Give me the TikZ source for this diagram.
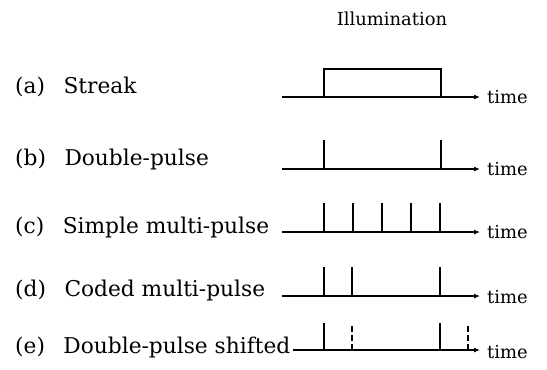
\documentclass[tikz,border=0pt]{standalone}
\usepackage{fontspec}
\setmainfont{DejaVu Serif}
\usetikzlibrary{arrows.meta}
\begin{document}
\begin{tikzpicture}[x=1bp,y=-1bp,
  axis/.style={line width=1.9bp,-{Latex[length=6bp,width=5bp]}},
  pulse/.style={line width=2.9bp},
  dpulse/.style={pulse,dash pattern=on 6bp off 3bp},
  lbl/.style={anchor=base west,inner sep=0pt,font=\fontsize{21.8}{24}\selectfont},
  tlbl/.style={anchor=base west,inner sep=0pt,font=\fontsize{18}{20}\selectfont},
  head/.style={anchor=base,inner sep=0pt,font=\fontsize{18}{20}\selectfont}]
\useasboundingbox (0,0) rectangle (547,369);

% heading
\node[head] (title) at (392,25) {Illumination};

% row labels
\node[lbl] (la) at (15,93)  {(a)\hspace{0.85em}Streak};
\node[lbl] (lb) at (15,165) {(b)\hspace{0.85em}Double-pulse};
\node[lbl] (lc) at (15,233) {(c)\hspace{0.85em}Simple multi-pulse};
\node[lbl] (ld) at (15,296) {(d)\hspace{0.85em}Coded multi-pulse};
\node[lbl] (le) at (15,353) {(e)\hspace{0.85em}Double-pulse shifted};

% time axes
\coordinate (a0) at (282,97);  \coordinate (a1) at (480,97);
\coordinate (b0) at (282,169); \coordinate (b1) at (480,169);
\coordinate (c0) at (282,232); \coordinate (c1) at (480,232);
\coordinate (d0) at (282,296); \coordinate (d1) at (480,296);
\coordinate (e0) at (293,350); \coordinate (e1) at (480,350);
\foreach \r in {a,b,c,d,e} \draw[axis] (\r0) -- (\r1);

\node[tlbl] (ta) at (487,103) {time};
\node[tlbl] (tb) at (487,175) {time};
\node[tlbl] (tc) at (487,238) {time};
\node[tlbl] (td) at (487,303) {time};
\node[tlbl] (te) at (487,358) {time};

% (a) streak: rectangular illumination window
\draw[pulse,line join=miter] (324,97) -- (324,69) -- (441,69) -- (441,97);

% (b) two pulses
\foreach \x in {324,441} \draw[pulse] (\x,169) -- (\x,140);

% (c) evenly spaced pulses
\foreach \x in {324,353,382,411,440} \draw[pulse] (\x,232) -- (\x,203);

% (d) coded pulse train
\foreach \x in {324,352,440} \draw[pulse] (\x,296) -- (\x,267);

% (e) double pulse and its shifted copy
\foreach \x in {324,440} \draw[pulse] (\x,350) -- (\x,323);
\foreach \x in {352,468} \draw[dpulse] (\x,350) -- (\x,323);
\end{tikzpicture}
\end{document}
